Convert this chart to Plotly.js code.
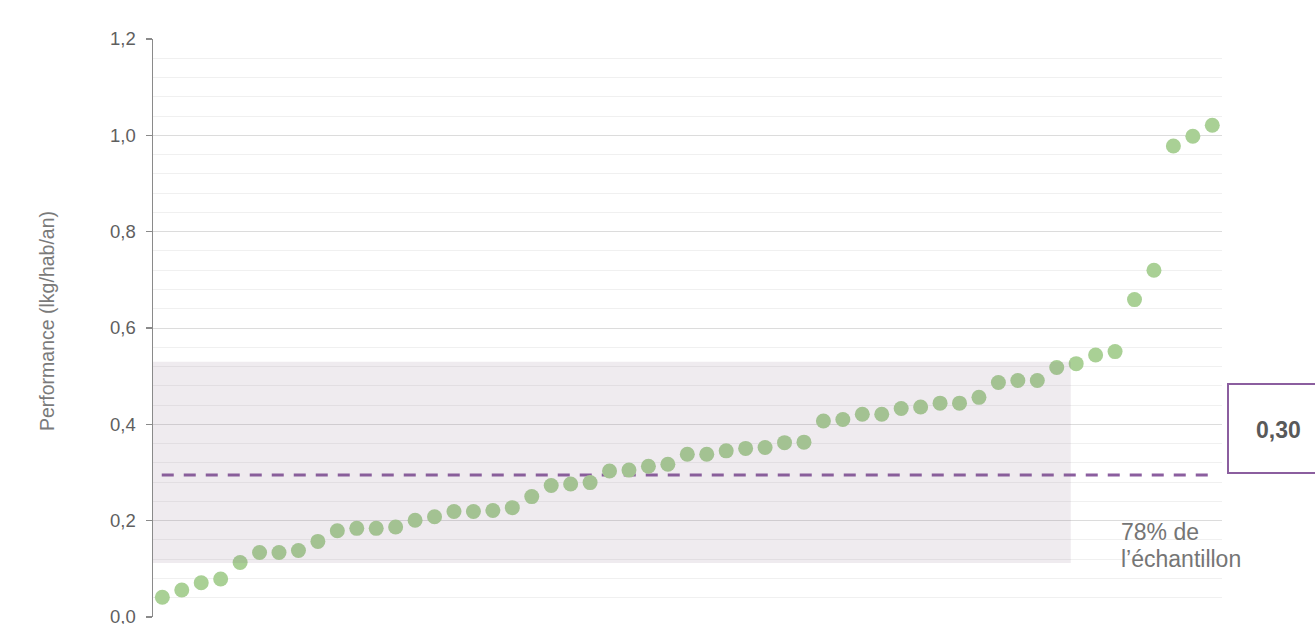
<!DOCTYPE html>
<html>
<head>
<meta charset="utf-8">
<script src="https://cdn.plot.ly/plotly-3.0.1.min.js"></script>
<style>html,body{margin:0;padding:0;background:#fff;}#chart{width:1315px;height:624px;}</style>
</head>
<body>
<div id="chart"></div>
<script>
// Rank of each sample in the sorted sample (1..55)
const rank = [1,2,3,4,5,6,7,8,9,10,11,12,13,14,15,16,17,18,19,20,21,22,23,24,25,26,27,28,29,30,31,32,33,34,35,36,37,38,39,40,41,42,43,44,45,46,47,48,49,50,51,52,53,54,55];
// Performance (kg/hab/an)
const performance = [0.041,0.056,0.071,0.079,0.113,0.134,0.134,0.138,0.157,0.179,
  0.184,0.184,0.187,0.201,0.208,0.219,0.219,0.221,0.227,0.250,
  0.273,0.276,0.279,0.303,0.305,0.313,0.317,0.338,0.338,0.345,
  0.350,0.352,0.362,0.363,0.407,0.410,0.421,0.421,0.433,0.436,
  0.444,0.444,0.456,0.487,0.491,0.491,0.518,0.526,0.544,0.551,
  0.659,0.720,0.978,0.998,1.021];
// Reference value (dashed line) and its label
const refValue = 0.295;
const refLabel = "0,30";
// Shaded band covering 78% of the sample
const bandLow = 0.112;
const bandHigh = 0.530;
const bandEndRank = 47.72;
const bandLabel = ["78% de", "l’échantillon"];
const yTicks = [0, 0.2, 0.4, 0.6, 0.8, 1.0, 1.2];
const yTickText = ["0,0","0,2","0,4","0,6","0,8","1,0","1,2"];
const yTitle = "Performance (lkg/hab/an)";

const xRange = [0.52, 55.5];
const refStart = 0.97, refEnd = 54.78;

const traces = [
  {
    x: [refStart, refEnd], y: [refValue, refValue],
    mode: 'lines', type: 'scatter', hoverinfo: 'skip',
    line: {color: '#8b5e9f', width: 3, dash: '12px,10px'}
  },
  {
    x: rank, y: performance, mode: 'markers', type: 'scatter',
    marker: {color: '#a9d095', size: 15, line: {width: 0}}
  }
];

const font = "Liberation Sans, Arial, sans-serif";
const layout = {
  width: 1315, height: 624,
  margin: {l: 153, r: 93, t: 39, b: 7, pad: 0},
  paper_bgcolor: '#fff', plot_bgcolor: '#fff',
  showlegend: false,
  separators: ', ',
  font: {family: font, color: '#5f5f5f'},
  xaxis: {range: xRange, visible: false, showgrid: false, zeroline: false},
  yaxis: {
    range: [0, 1.2], tickvals: yTicks, ticktext: yTickText,
    showgrid: true, gridcolor: '#dcdcdc', gridwidth: 1,
    minor: {dtick: 0.04, showgrid: true, gridcolor: '#f0f0f0', gridwidth: 1, ticks: ''},
    zeroline: false, showline: true, linecolor: '#8a8a8a', linewidth: 1.5,
    ticks: 'outside', ticklen: 6, tickcolor: '#8a8a8a', tickwidth: 1.5,
    ticklabelstandoff: 6, ticklabeloverflow: 'allow',
    tickfont: {family: font, size: 18.5, color: '#5f5f5f'}
  },
  shapes: [
    {type: 'rect', xref: 'x', yref: 'y', x0: xRange[0], x1: bandEndRank, y0: bandLow, y1: bandHigh,
     fillcolor: 'rgba(128,96,128,0.125)', line: {width: 0}, layer: 'above'},
    {type: 'rect', xref: 'paper', yref: 'paper', x0: 0.9065, x1: 1.0, y0: (617-585)/578, y1: (617-508)/578,
     fillcolor: '#ffffff', line: {width: 0}, layer: 'between'},
    {type: 'rect', xref: 'paper', yref: 'paper', x0: (1228-153)/1069, x1: (1335-153)/1069,
     y0: (617-473)/578, y1: (617-384)/578,
     fillcolor: 'rgba(0,0,0,0)', line: {color: '#8b5e9f', width: 2}, layer: 'above'}
  ],
  annotations: [
    {text: refLabel, xref: 'paper', yref: 'paper', x: (1278-153)/1069, y: (617-430)/578,
     xanchor: 'center', yanchor: 'middle', showarrow: false,
     font: {family: font, size: 23, color: '#595959', weight: 'bold'}},
    {text: bandLabel[0], xref: 'paper', yref: 'paper', x: (1119-153)/1069, y: (617-532)/578,
     xanchor: 'left', yanchor: 'middle', showarrow: false,
     font: {family: font, size: 23, color: '#757575'}},
    {text: bandLabel[1], xref: 'paper', yref: 'paper', x: (1119-153)/1069, y: (617-559)/578,
     xanchor: 'left', yanchor: 'middle', showarrow: false,
     font: {family: font, size: 23, color: '#757575'}},
    {text: yTitle, xref: 'paper', yref: 'paper', x: (47-153)/1069, y: (617-321)/578,
     xanchor: 'center', yanchor: 'middle', textangle: -90, showarrow: false,
     font: {family: font, size: 19.5, color: '#7a7a7a'}}
  ]
};

Plotly.newPlot('chart', traces, layout, {displayModeBar: false, staticPlot: true});
</script>
</body>
</html>
